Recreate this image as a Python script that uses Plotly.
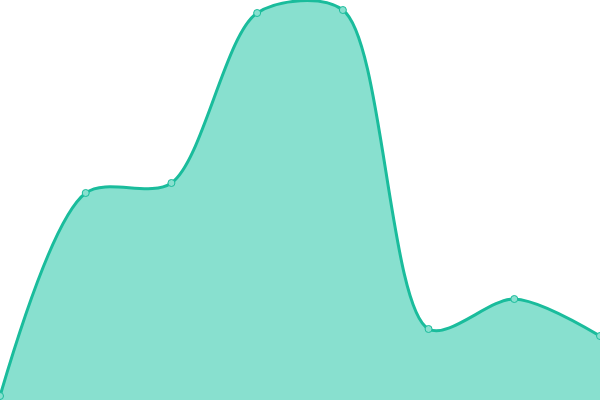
import plotly.graph_objects as go

# data
categories = [0, 1, 2, 3, 4, 5, 6, 7]
values = [1, 51.75, 54.25, 96.75, 97.5, 17.75, 25.25, 16]

line_color = "#1abc9c"
fill_color = "#88e0cf"

fig = go.Figure(data=[go.Scatter(
    x=categories, y=values, mode="lines+markers",
    line=dict(shape="spline", smoothing=0.85, color=line_color, width=3),
    fill="tozeroy", fillcolor=fill_color,
    marker=dict(size=7, color=fill_color, line=dict(color=line_color, width=1)),
    hoverinfo="skip", cliponaxis=False,
)])
fig.update_layout(width=600, height=400, margin=dict(l=0, r=0, t=0, b=0),
                  paper_bgcolor="white", plot_bgcolor="white", showlegend=False)
fig.update_xaxes(visible=False, range=[0, 7], fixedrange=True)
fig.update_yaxes(visible=False, range=[0, 100], fixedrange=True)

# drop the default page margin so the chart fills the window
fig.write_html("out.html", config={"displayModeBar": False},
               post_script="document.body.style.margin='0';")
